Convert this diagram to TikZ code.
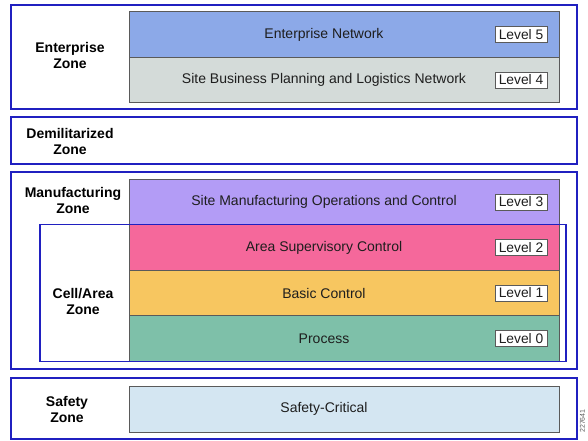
\documentclass[tikz,border=0pt]{standalone}
\usepackage{fontspec}
\setmainfont{Liberation Sans}
\usepackage{tikz}
\usetikzlibrary{positioning}
\definecolor{zoneblue}{HTML}{2020C0}
\definecolor{edge}{HTML}{5A5A5A}
\definecolor{ink}{HTML}{1E1E1E}
\definecolor{lfive}{HTML}{8CA9E8}
\definecolor{lfour}{HTML}{D4DBD9}
\definecolor{lthree}{HTML}{B39CF6}
\definecolor{ltwo}{HTML}{F5689B}
\definecolor{lone}{HTML}{F7C660}
\definecolor{lzero}{HTML}{7EC0A9}
\definecolor{lsafe}{HTML}{D4E6F2}
\tikzset{
  zone/.style={draw=zoneblue, line width=2pt},
  layer/.style={draw=edge, line width=0.8pt, minimum width=430pt, minimum height=45.5pt, inner sep=0pt},
  lvl/.style={draw=edge, fill=white, line width=0.7pt, minimum width=52pt, minimum height=16pt, inner sep=0pt, text=ink, font=\fontsize{13.8}{16}\selectfont},
  ltxt/.style={text=ink, font=\fontsize{14}{16}\selectfont},
  zlbl/.style={align=center, text=black, font=\fontsize{14}{16}\selectfont\bfseries}
}
\begin{document}
\begin{tikzpicture}[x=1pt, y=-1pt]
  \useasboundingbox (0,0) rectangle (588,440);

  % zones
  \draw[zone] (11,5) rectangle (577,109);
  \draw[zone] (11,117) rectangle (577,164);
  \draw[zone] (11,172) rectangle (577,369);
  \draw[zone] (11,378) rectangle (577,438.5);

  % layers
  \node[layer, fill=lfive] (l5) at (344,34.5) {};
  \node[layer, fill=lfour] (l4) at (344,80) {};
  \node[layer, fill=lthree] (l3) at (344,202) {};
  \node[layer, fill=ltwo] (l2) at (344,247.5) {};
  \node[layer, fill=lone] (l1) at (344,293) {};
  \node[layer, fill=lzero] (l0) at (344,338.5) {};
  \node[layer, fill=lsafe, minimum height=46pt] (ls) at (344,409) {};

  \node[ltxt] (t5) at (324,34.5) {Enterprise Network};
  \node[ltxt] (t4) at (324,80) {Site Business Planning and Logistics Network};
  \node[ltxt] (t3) at (324,202) {Site Manufacturing Operations and Control};
  \node[ltxt] (t2) at (324,247.5) {Area Supervisory Control};
  \node[ltxt] (t1) at (324,293) {Basic Control};
  \node[ltxt] (t0) at (324,338.5) {Process};
  \node[ltxt] (ts) at (324,409) {Safety-Critical};

  \node[lvl, left=12pt of l5.east] (v5) {Level 5};
  \node[lvl, left=12pt of l4.east] (v4) {Level 4};
  \node[lvl, left=12pt of l3.east] (v3) {Level 3};
  \node[lvl, left=12pt of l2.east] (v2) {Level 2};
  \node[lvl, left=12pt of l1.east] (v1) {Level 1};
  \node[lvl, left=12pt of l0.east] (v0) {Level 0};

  % cell/area zone
  \draw[zone, line width=1.8pt] (40,224.5) rectangle (566,361.5);

  % zone labels
  \node[zlbl] (ez) at (70,55) {Enterprise\\Zone};
  \node[zlbl] (dz) at (70,141) {Demilitarized\\Zone};
  \node[zlbl] (mz) at (73,200) {Manufacturing\\Zone};
  \node[zlbl] (cz) at (83,301) {Cell/Area\\Zone};
  \node[zlbl] (sz) at (67,409) {Safety\\Zone};

  \node[rotate=90, text=edge, font=\fontsize{7}{8}\selectfont] (fig) at (582.5,421) {227641};
\end{tikzpicture}
\end{document}
